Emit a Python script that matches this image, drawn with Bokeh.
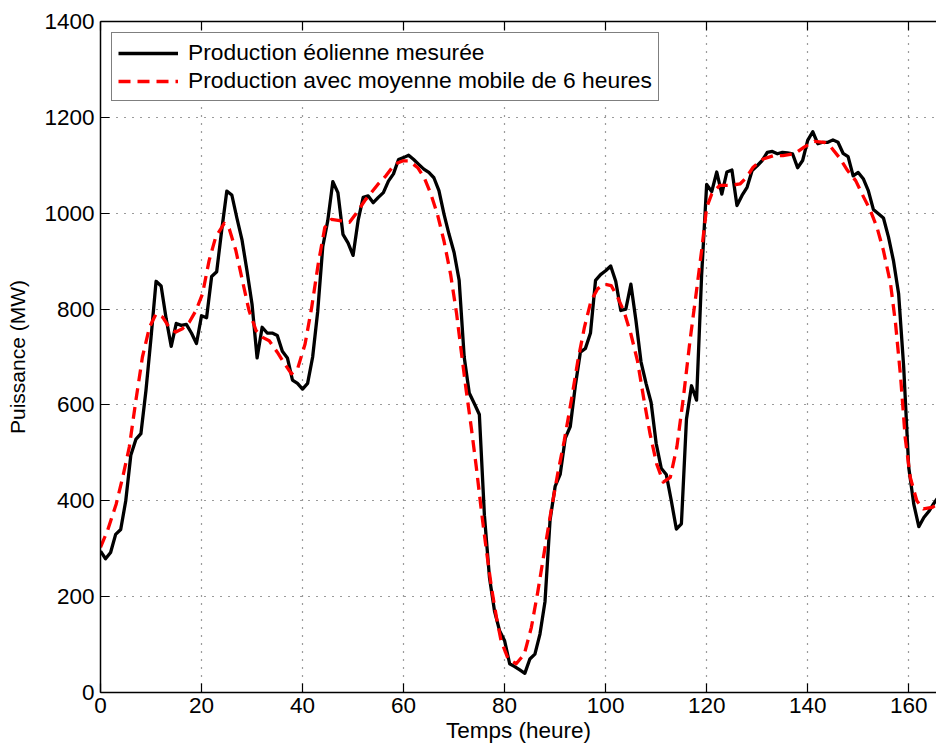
from bokeh.plotting import figure
from bokeh.models import (LinearAxis, Range1d, FixedTicker, Legend, LegendItem, Title)
from bokeh.embed import file_html
from bokeh.resources import INLINE

# Hourly measured wind power output (MW)
hours = list(range(0, 167))
measured = [
    295, 279, 292, 330, 340, 400, 495, 528, 540, 630,
    740, 858, 848, 780, 722, 770, 766, 768, 750, 728,
    786, 782, 868, 878, 965, 1046, 1038, 990, 945, 880,
    810, 698, 762, 750, 750, 745, 712, 698, 652, 645,
    633, 645, 700, 795, 930, 985, 1066, 1043, 956, 938,
    912, 985, 1033, 1036, 1022, 1033, 1043, 1067, 1082, 1112,
    1116, 1121, 1112, 1102, 1092, 1085, 1074, 1047, 998, 956,
    918, 860, 700, 625, 603, 580, 370, 240, 170, 129,
    108, 60, 54, 47, 40, 70, 80, 122, 190, 360,
    430, 455, 530, 555, 640, 710, 718, 750, 860, 872,
    880, 890, 858, 797, 800, 852, 776, 690, 645, 605,
    520, 468, 455, 400, 341, 352, 570, 640, 610, 870,
    1060, 1045, 1086, 1040, 1086, 1090, 1016, 1037, 1054, 1089,
    1099, 1110, 1127, 1129, 1124, 1127, 1126, 1124, 1095, 1110,
    1152, 1170, 1145, 1148, 1148, 1153, 1148, 1125, 1118, 1078,
    1085, 1072, 1047, 1008, 999, 990, 950, 900, 832, 680,
    470, 393, 346, 365, 378, 395, 410,
]

# 6-hour moving average curve (time in hours, MW)
smooth_t = [
    0, 1.4, 3.1, 4.4, 5.7, 7, 8.3, 9.7, 11, 12.3,
    13.6, 14.9, 16.2, 17.6, 18.9, 20.2, 21.5, 22.8, 24.5, 25.5,
    26.8, 28.1, 29.4, 30.8, 32.1, 33.4, 35, 36.5, 37.8, 39,
    40.5, 41.8, 43.1, 44.4, 45.7, 47.7, 49.3, 51, 52.3, 53.6,
    54.9, 56.5, 58.2, 59.8, 61.1, 62.8, 64.1, 65.4, 66.7, 68,
    69.3, 70.5, 71.4, 72.4, 73.4, 74.4, 75.4, 76.4, 77.4, 78.4,
    79.3, 80.7, 82.3, 83.9, 85.3, 86.6, 87.9, 89.2, 90.5, 91.8,
    93.2, 94.5, 95.8, 97.1, 98.4, 99.7, 101.1, 102.4, 103.7, 105,
    106.3, 107.5, 108.8, 110.1, 111.4, 112.8, 114.1, 115.4, 116.7, 118,
    119, 120, 121, 122.6, 124.6, 126.6, 127.9, 129.2, 131.2, 133.2,
    135.1, 137.4, 139.3, 141.3, 143.3, 144.6, 146.2, 147.9, 149.5, 151.1,
    152.4, 153.7, 155, 156.4, 157.4, 158.4, 159.3, 160.3, 161.6, 162.9,
    164.6, 166,
]
smooth_mw = [
    303, 338, 393, 449, 512, 609, 700, 762, 790, 783,
    762, 752, 759, 773, 797, 832, 901, 950, 979, 967,
    922, 859, 797, 755, 741, 734, 710, 685, 665, 675,
    727, 803, 894, 970, 987, 984, 981, 1005, 1026, 1043,
    1060, 1078, 1102, 1109, 1109, 1095, 1074, 1040, 998, 942,
    873, 790, 713, 630, 553, 470, 379, 296, 219, 156,
    108, 70, 60, 80, 136, 212, 296, 379, 456, 525,
    609, 692, 762, 817, 842, 852, 849, 824, 793, 748,
    692, 616, 539, 477, 439, 449, 512, 616, 734, 839,
    922, 1012, 1040, 1058, 1058, 1061, 1075, 1096, 1113, 1120,
    1120, 1124, 1138, 1150, 1148, 1138, 1117, 1089, 1068, 1033,
    1006, 971, 922, 853, 769, 658, 532, 449, 400, 383,
    386, 395,
]
assert len(smooth_t) == len(smooth_mw)

x_ticks = [0, 20, 40, 60, 80, 100, 120, 140, 160]
y_ticks = [0, 200, 400, 600, 800, 1000, 1200, 1400]

FONT = "Liberation Sans"

p = figure(width=936, height=746, output_backend="svg", toolbar_location=None,
           x_range=Range1d(0, 165.5), y_range=Range1d(0, 1400),
           min_border_left=100, min_border_right=0,
           min_border_top=21, min_border_bottom=54)
p.outline_line_color = None
p.background_fill_color = "white"
p.border_fill_color = "white"

bottom_axis = p.below[0]
left_axis = p.left[0]

# top frame edge with inward ticks; its labels are switched off
top_axis = LinearAxis(major_label_text_color=None, major_label_text_font_size="1px",
                      major_label_standoff=0)
p.add_layout(top_axis, "above")

for ax in (bottom_axis, top_axis, left_axis):
    ax.axis_line_color = "black"
    ax.axis_line_width = 1.5
    ax.major_tick_in = 9
    ax.major_tick_out = 0
    ax.minor_tick_in = 0
    ax.minor_tick_out = 0
    ax.major_tick_line_color = "black"
    ax.major_tick_line_width = 1.2

bottom_axis.ticker = FixedTicker(ticks=x_ticks)
top_axis.ticker = FixedTicker(ticks=x_ticks)
left_axis.ticker = FixedTicker(ticks=y_ticks)

bottom_axis.major_label_text_font = FONT
bottom_axis.major_label_text_font_size = "22.5px"
bottom_axis.major_label_text_color = "black"
bottom_axis.major_label_standoff = 5

left_axis.major_label_text_font = FONT
left_axis.major_label_text_font_size = "22.5px"
left_axis.major_label_text_color = "black"
left_axis.major_label_standoff = 6
left_axis.axis_label = "Puissance (MW)"
left_axis.axis_label_text_font = FONT
left_axis.axis_label_text_font_size = "21px"
left_axis.axis_label_text_font_style = "normal"
left_axis.axis_label_text_color = "black"
left_axis.axis_label_standoff = 12

# x-axis title, nudged right to sit under the full week span
xtitle = Title(text="Temps (heure)", align="center", offset=8, standoff=0,
               text_font=FONT, text_font_size="22.5px", text_font_style="normal",
               text_color="black")
p.add_layout(xtitle, "below")

for g in (p.xgrid, p.ygrid):
    g.grid_line_color = "#222222"
    g.grid_line_width = 1.2
    g.grid_line_dash = "1 7"
    g.grid_line_alpha = 0.9

r_meas = p.line(hours, measured, line_color="black", line_width=3.3, line_join="round")
r_avg = p.line(smooth_t, smooth_mw, line_color="#ff0000", line_width=3.3,
               line_dash="12 7", line_join="round")

legend = Legend(items=[
    LegendItem(label="Production éolienne mesurée", renderers=[r_meas]),
    LegendItem(label="Production avec moyenne mobile de 6 heures", renderers=[r_avg]),
], location="top_left")
legend.border_line_color = "black"
legend.border_line_width = 1
legend.background_fill_color = "white"
legend.background_fill_alpha = 1
legend.label_text_font = FONT
legend.label_text_font_size = "22.8px"
legend.label_text_color = "black"
legend.glyph_width = 60
legend.glyph_height = 20
legend.label_height = 20
legend.spacing = 1
legend.padding = 6
legend.margin = 11
legend.label_standoff = 10
p.add_layout(legend)

open("out.html", "w").write(file_html(p, INLINE))
